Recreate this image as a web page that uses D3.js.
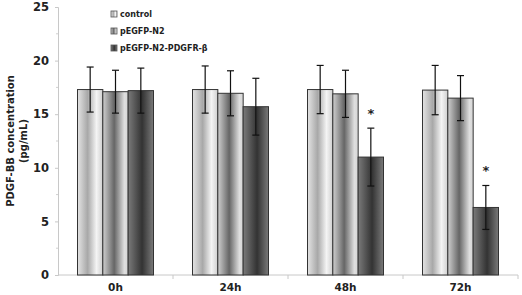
<!DOCTYPE html>
<html>
<head>
<meta charset="utf-8">
<script src="https://cdn.jsdelivr.net/npm/d3@7"></script>
<style>
  body { margin: 0; background: #fff; }
  text { font-family: "DejaVu Sans", Verdana, sans-serif; font-weight: bold; fill: #222; }
</style>
</head>
<body>
<div id="chart"></div>
<script>
// Data
const categories = ["0h", "24h", "48h", "72h"];
const series = ["control", "pEGFP-N2", "pEGFP-N2-PDGFR-β"];
const means = [
  [17.3, 17.1, 17.2],
  [17.3, 16.95, 15.7],
  [17.3, 16.9, 11.0],
  [17.25, 16.5, 6.3]
];
const errors = [
  [2.1, 2.0, 2.1],
  [2.2, 2.1, 2.65],
  [2.25, 2.2, 2.7],
  [2.3, 2.1, 2.05]
];
// significant marks: [category index, series index]
const stars = [[2, 2], [3, 2]];
const yTicks = [0, 5, 10, 15, 20, 25];

const width = 522;
const height = 295;
const margin = {top: 7, right: 4, bottom: 20, left: 58};

const svg = d3.select("#chart").append("svg")
    .attr("width", width)
    .attr("height", height);

// gradients for the three series
const defs = svg.append("defs");
const gradStops = [
  [["0%", "#e4e4e4"], ["40%", "#a8a8a8"], ["75%", "#f4f4f4"], ["100%", "#cfcfcf"]],
  [["0%", "#cfcfcf"], ["45%", "#666"], ["85%", "#dedede"], ["100%", "#d6d6d6"]],
  [["0%", "#7a7a7a"], ["55%", "#333"], ["100%", "#7a7a7a"]]
];
gradStops.forEach((stops, i) => {
  const g = defs.append("linearGradient")
      .attr("id", "grad" + i)
      .attr("x1", "0%").attr("x2", "100%").attr("y1", "0%").attr("y2", "0%");
  stops.forEach(s => g.append("stop").attr("offset", s[0]).attr("stop-color", s[1]));
});

const x0 = d3.scaleBand()
    .domain(categories)
    .range([margin.left, width - margin.right]);

const x1 = d3.scaleBand()
    .domain(d3.range(series.length))
    .range([0, x0.bandwidth()])
    .paddingOuter(0.77);

const y = d3.scaleLinear()
    .domain([0, 25])
    .range([height - margin.bottom, margin.top]);

// y axis
const yAxis = svg.append("g")
    .attr("transform", `translate(${margin.left},0)`)
    .call(d3.axisLeft(y).tickValues(yTicks).tickSize(3).tickPadding(6));
yAxis.select(".domain").attr("stroke", "#c8c8c8");
yAxis.selectAll(".tick line").attr("stroke", "#c8c8c8");
yAxis.selectAll(".tick text").style("font-size", "11.5px");

// minor ticks
svg.append("g")
    .selectAll("line")
    .data(d3.range(2.5, 25, 5))
    .enter().append("line")
    .attr("x1", margin.left - 2).attr("x2", margin.left)
    .attr("y1", d => y(d)).attr("y2", d => y(d))
    .attr("stroke", "#d0d0d0");

// x axis
const xAxisY = y(0);
svg.append("line")
    .attr("x1", margin.left).attr("x2", width - margin.right)
    .attr("y1", xAxisY).attr("y2", xAxisY)
    .attr("stroke", "#c8c8c8");
svg.append("g")
    .selectAll("line")
    .data(categories)
    .enter().append("line")
    .attr("x1", d => x0(d) + x0.bandwidth()).attr("x2", d => x0(d) + x0.bandwidth())
    .attr("y1", xAxisY).attr("y2", xAxisY + 4)
    .attr("stroke", "#c8c8c8");
svg.append("g")
    .selectAll("text")
    .data(categories)
    .enter().append("text")
    .attr("x", d => x0(d) + x0.bandwidth() / 2)
    .attr("y", xAxisY + 16)
    .attr("text-anchor", "middle")
    .style("font-size", "10.5px")
    .text(d => d);

// bars
const groups = svg.append("g")
    .selectAll("g")
    .data(categories)
    .enter().append("g")
    .attr("transform", d => `translate(${x0(d)},0)`);

const cells = groups.selectAll("g")
    .data((d, ci) => series.map((s, si) => ({ci, si, v: means[ci][si], e: errors[ci][si]})))
    .enter().append("g");

cells.append("rect")
    .attr("x", d => x1(d.si))
    .attr("width", x1.bandwidth())
    .attr("y", d => y(d.v))
    .attr("height", d => y(0) - y(d.v))
    .attr("fill", d => `url(#grad${d.si})`)
    .attr("stroke", "#333")
    .attr("stroke-width", 1);

// error bars
const cap = 3.5;
cells.append("line")
    .attr("x1", d => x1(d.si) + x1.bandwidth() / 2)
    .attr("x2", d => x1(d.si) + x1.bandwidth() / 2)
    .attr("y1", d => y(d.v + d.e))
    .attr("y2", d => y(d.v - d.e))
    .attr("stroke", "#111").attr("stroke-width", 1.2);
cells.append("line")
    .attr("x1", d => x1(d.si) + x1.bandwidth() / 2 - cap)
    .attr("x2", d => x1(d.si) + x1.bandwidth() / 2 + cap)
    .attr("y1", d => y(d.v + d.e)).attr("y2", d => y(d.v + d.e))
    .attr("stroke", "#111").attr("stroke-width", 1.2);
cells.append("line")
    .attr("x1", d => x1(d.si) + x1.bandwidth() / 2 - cap)
    .attr("x2", d => x1(d.si) + x1.bandwidth() / 2 + cap)
    .attr("y1", d => y(d.v - d.e)).attr("y2", d => y(d.v - d.e))
    .attr("stroke", "#111").attr("stroke-width", 1.2);

// significance stars
svg.append("g")
    .selectAll("text")
    .data(stars)
    .enter().append("text")
    .attr("x", d => x0(categories[d[0]]) + x1(d[1]) + x1.bandwidth() / 2)
    .attr("y", d => y(means[d[0]][d[1]] + errors[d[0]][d[1]]) - 10)
    .attr("text-anchor", "middle")
    .style("font-size", "13px")
    .text("*");

// legend
const legend = svg.append("g")
    .attr("transform", "translate(111,14)");
const items = legend.selectAll("g")
    .data(series)
    .enter().append("g")
    .attr("transform", (d, i) => `translate(0,${i * 17})`);
items.append("rect")
    .attr("x", 0).attr("y", -3)
    .attr("width", 6).attr("height", 6)
    .attr("fill", (d, i) => `url(#grad${i})`)
    .attr("stroke", "#555").attr("stroke-width", 0.8);
items.append("text")
    .attr("x", 9).attr("y", 3)
    .style("font-size", "8px")
    .text(d => d);

// y label
const yLabel = svg.append("text")
    .attr("transform", `translate(0,${(margin.top + y(0)) / 2}) rotate(-90)`)
    .attr("text-anchor", "middle")
    .style("font-size", "10px");
yLabel.append("tspan").attr("x", 0).attr("y", 14).text("PDGF-BB concentration");
yLabel.append("tspan").attr("x", 0).attr("y", 27).text("(pg/mL)");
</script>
</body>
</html>
